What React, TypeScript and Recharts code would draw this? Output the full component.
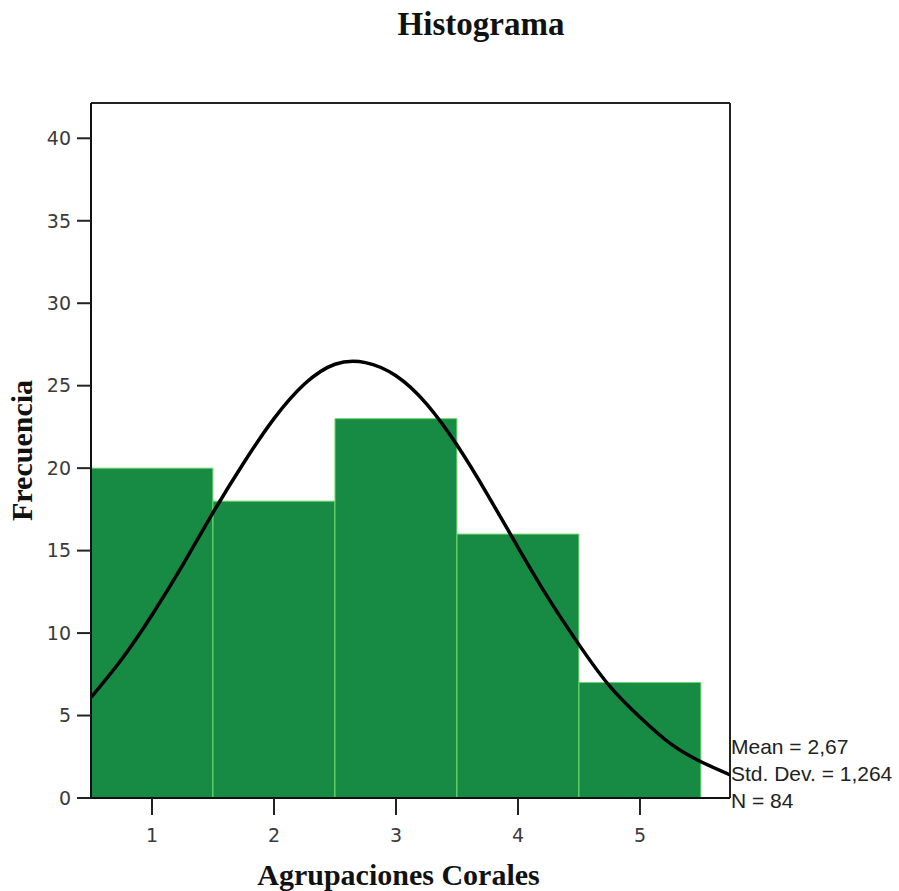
import {
  Bar,
  ComposedChart,
  Label,
  Line,
  ReferenceLine,
  XAxis,
  YAxis,
} from "recharts";

// bin centres and counts
const binCenters = [1, 2, 3, 4, 5];
const binCounts = [20, 18, 23, 16, 7];

// normal curve
const curveX = [
  0.5, 0.75, 1, 1.25, 1.5, 1.75, 2, 2.25, 2.5, 2.75, 3, 3.25, 3.5, 3.75, 4,
  4.25, 4.5, 4.75, 5, 5.25, 5.5, 5.74,
];
const curveY = [
  6.1, 8.4, 11.1, 14.1, 17.3, 20.3, 23.0, 25.1, 26.3, 26.4, 25.6, 23.9, 21.4,
  18.4, 15.2, 12.1, 9.3, 6.8, 4.9, 3.3, 2.2, 1.4,
];

const xTicks = [1, 2, 3, 4, 5];
const yTicks = [0, 5, 10, 15, 20, 25, 30, 35, 40];
const xDomain: [number, number] = [0.5, 5.738];
const yDomain: [number, number] = [0, 42.14];

const statLines = ["Mean = 2,67", "Std. Dev. = 1,264", "N = 84"];

const bins = binCenters.map((x, i) => ({ x, count: binCounts[i] }));
const curve = curveX.map((x, i) => ({ cx: x, y: curveY[i] }));

const serif = "'Liberation Serif', serif";
const sans = "'DejaVu Sans', sans-serif";
const tickStyle = { fill: "#3a3a3a", fontSize: 19, fontFamily: sans };

export default function App() {
  return (
    <div style={{ position: "absolute", left: 0, top: 0, width: 899, height: 891 }}>
      <div
        style={{
          position: "absolute",
          left: 0,
          width: 962,
          top: 6,
          textAlign: "center",
          fontFamily: serif,
          fontWeight: 700,
          fontSize: 33,
          color: "#111",
        }}
      >
        Histograma
      </div>

      <ComposedChart
        width={899}
        height={891}
        data={bins}
        barGap={0}
        margin={{ top: 103, right: 169, bottom: 0, left: 0 }}
      >
        <XAxis
          dataKey="x"
          type="number"
          domain={xDomain}
          allowDataOverflow
          ticks={xTicks}
          height={93}
          tickSize={17}
          tickMargin={14}
          axisLine={{ stroke: "#111", strokeWidth: 2 }}
          tickLine={{ stroke: "#222", strokeWidth: 2 }}
          tick={tickStyle}
        >
          <Label
            value="Agrupaciones Corales"
            position="insideBottom"
            offset={6}
            dx={-12}
            style={{ fontFamily: serif, fontWeight: 700, fontSize: 30, fill: "#111" }}
          />
        </XAxis>
        <XAxis
          xAxisId="curve"
          dataKey="cx"
          type="number"
          domain={xDomain}
          allowDataOverflow
          hide
        />
        <YAxis
          type="number"
          domain={yDomain}
          allowDataOverflow
          ticks={yTicks}
          width={91}
          tickSize={14}
          tickMargin={6}
          axisLine={{ stroke: "#111", strokeWidth: 2 }}
          tickLine={{ stroke: "#222", strokeWidth: 2 }}
          tick={tickStyle}
        >
          <Label
            value="Frecuencia"
            angle={-90}
            position="insideLeft"
            offset={21}
            style={{
              fontFamily: serif,
              fontWeight: 700,
              fontSize: 30,
              fill: "#111",
              textAnchor: "middle",
            }}
          />
        </YAxis>
        <ReferenceLine y={yDomain[1]} stroke="#222" strokeWidth={2} ifOverflow="visible" />
        <ReferenceLine x={xDomain[1]} stroke="#222" strokeWidth={2} ifOverflow="visible" />
        <Bar
          dataKey="count"
          barSize={121.9}
          fill="#178a44"
          stroke="#6ad66a"
          strokeWidth={1}
          isAnimationActive={false}
        />
        <Line
          xAxisId="curve"
          data={curve}
          dataKey="y"
          type="natural"
          stroke="#000"
          strokeWidth={3.5}
          dot={false}
          activeDot={false}
          isAnimationActive={false}
        />
      </ComposedChart>

      <div
        style={{
          position: "absolute",
          left: 731,
          top: 733,
          fontFamily: "'Liberation Sans', Arial, sans-serif",
          fontSize: 21,
          lineHeight: "27px",
          color: "#222",
          whiteSpace: "nowrap",
        }}
      >
        {statLines.map((s) => (
          <div key={s}>{s}</div>
        ))}
      </div>
    </div>
  );
}
